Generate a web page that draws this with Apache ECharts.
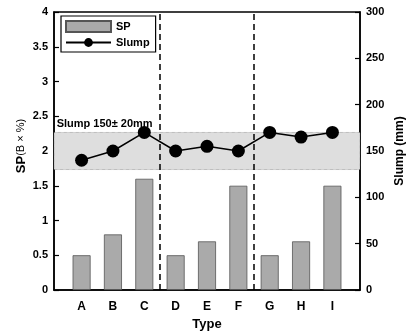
<!DOCTYPE html>
<html>
<head>
<meta charset="utf-8">
<script src="https://cdn.jsdelivr.net/npm/echarts@6/dist/echarts.min.js"></script>
<style>
html,body{margin:0;padding:0;background:#fff;}
#main{width:406px;height:332px;}
</style>
</head>
<body>
<div id="main"></div>
<script>
var types = ['A','B','C','D','E','F','G','H','I'];
var spData = [0.5, 0.8, 1.6, 0.5, 0.7, 1.5, 0.5, 0.7, 1.5];
var slumpData = [140, 150, 170, 150, 155, 150, 170, 165, 170];
var slumpBand = [130, 170];
var groupLines = [3.5, 6.5];
var xRange = [0.12, 9.88];

var font = 'Liberation Sans, Arial, sans-serif';
var myChart = echarts.init(document.getElementById('main'));

function pairs(arr){
	return arr.map(function(v, i){ return [i + 1, v]; });
}

var option = {
	animation: false,
	textStyle: { fontFamily: font },
	grid: {
		left: 54, right: 46, top: 12, bottom: 42,
		outerBoundsMode: 'none',
		containLabel: false,
		show: true, borderColor: '#000', borderWidth: 1.5
	},
	// left axis title, placed by hand
	graphic: [{
		type: 'text',
		x: 21, y: 146,
		rotation: Math.PI / 2,
		style: {
			text: '{a|SP}{b|(B × %)}',
			align: 'center',
			verticalAlign: 'middle',
			fill: '#000',
			rich: {
				a: { fontSize: 13, fontWeight: 'bold', fontFamily: font, fill: '#000' },
				b: { fontSize: 11, fontFamily: font, fill: '#000' }
			}
		}
	}],
	legend: {
		orient: 'vertical',
		left: 61, top: 16,
		padding: [4, 6, 4, 4],
		itemGap: 4,
		itemWidth: 45,
		itemHeight: 11,
		borderColor: '#000',
		borderWidth: 1.2,
		backgroundColor: '#fff',
		textStyle: { fontSize: 11, fontWeight: 'bold', color: '#000', fontFamily: font },
		data: [
			{ name: 'SP', icon: 'rect' },
			{ name: 'Slump' }
		]
	},
	xAxis: {
		type: 'value',
		min: xRange[0],
		max: xRange[1],
		name: 'Type',
		nameLocation: 'middle',
		nameGap: 27,
		nameTextStyle: { fontSize: 13, fontWeight: 'bold', color: '#000' },
		splitLine: { show: false },
		axisLine: { lineStyle: { color: '#000', width: 1.5 } },
		axisTick: { show: false },
		axisLabel: {
			customValues: [1,2,3,4,5,6,7,8,9],
			formatter: function(v){ return types[Math.round(v) - 1] || ''; },
			fontSize: 12, fontWeight: 'bold', color: '#000', margin: 11
		}
	},
	yAxis: [{
		type: 'value',
		min: 0, max: 4, interval: 0.5,
		splitLine: { show: false },
		axisLine: { show: true, lineStyle: { color: '#000', width: 1.5 } },
		axisTick: { inside: true, length: 5, lineStyle: { color: '#000', width: 1.2 } },
		axisLabel: { fontSize: 11, fontWeight: 'bold', color: '#000', margin: 6 }
	}, {
		type: 'value',
		min: 0, max: 300, interval: 50,
		name: 'Slump (mm)',
		nameLocation: 'middle',
		nameGap: 34,
		nameMoveOverlap: false,
		nameRotate: 90,
		nameTextStyle: { fontSize: 12, fontWeight: 'bold', color: '#000' },
		splitLine: { show: false },
		axisLine: { show: true, lineStyle: { color: '#000', width: 1.5 } },
		axisTick: { inside: true, length: 5, lineStyle: { color: '#000', width: 1.2 } },
		axisLabel: { fontSize: 11, fontWeight: 'bold', color: '#000', margin: 6 }
	}],
	series: [{
		name: 'SP',
		type: 'bar',
		yAxisIndex: 0,
		barWidth: 18,
		data: pairs(spData),
		itemStyle: { color: '#aaaaaa', borderColor: '#555', borderWidth: 0.8 },
		markLine: {
			silent: true,
			symbol: 'none',
			label: { show: false },
			lineStyle: { color: '#000', type: [6, 4], width: 1.5 },
			data: groupLines.map(function(x){ return { xAxis: x }; })
		}
	}, {
		name: 'Slump',
		type: 'line',
		yAxisIndex: 1,
		data: pairs(slumpData),
		symbol: 'circle',
		symbolSize: 13,
		itemStyle: { color: '#000' },
		lineStyle: { color: '#000', width: 1.5 },
		markArea: {
			silent: true,
			itemStyle: { color: '#dedede', borderColor: '#666', borderWidth: 0.6, borderType: 'dotted' },
			label: {
				show: true,
				position: [3, -14],
				formatter: 'Slump 150± 20mm',
				fontSize: 11, fontWeight: 'bold', color: '#000', fontFamily: font
			},
			data: [[{ xAxis: xRange[0], yAxis: slumpBand[0] }, { xAxis: xRange[1], yAxis: slumpBand[1] }]]
		},
		z: 5
	}]
};

myChart.setOption(option);
</script>
</body>
</html>
